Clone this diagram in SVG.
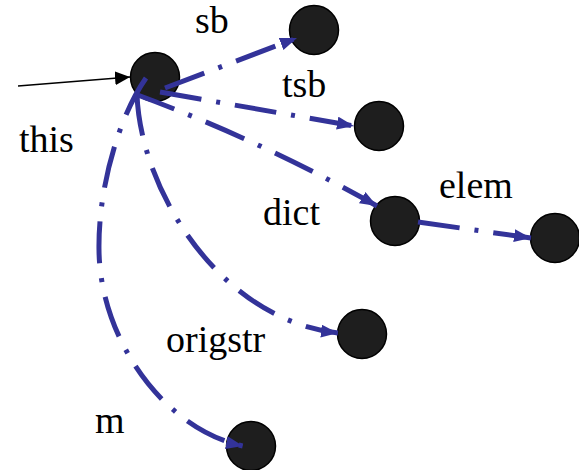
<svg xmlns="http://www.w3.org/2000/svg" width="579" height="470" viewBox="0 0 579 470">
  <style>
    .node { fill: #1e1e1e; stroke: #000; stroke-width: 1.5; }
    .edge { fill: none; stroke: #333399; stroke-width: 5; stroke-dasharray: 42 15 4 15; }
  </style>
  <defs>
    <marker id="head" markerUnits="userSpaceOnUse" markerWidth="18" markerHeight="14" refX="17" refY="6.5" orient="auto">
      <path d="M0,0 L17,6.5 L0,13 z" fill="#333399"/>
    </marker>
    <marker id="head-black" markerUnits="userSpaceOnUse" markerWidth="16" markerHeight="14" refX="15" refY="7" orient="auto">
      <path d="M0,0 L15,7 L0,14 z" fill="#000"/>
    </marker>
  </defs>

  <g id="node-this"><circle class="node" cx="155" cy="77" r="24.5"/></g>
  <g id="node-sb"><circle class="node" cx="314" cy="30" r="24.5"/></g>
  <g id="node-tsb"><circle class="node" cx="379" cy="126" r="24.5"/></g>
  <g id="node-dict"><circle class="node" cx="395" cy="221" r="24.5"/></g>
  <g id="node-elem"><circle class="node" cx="555" cy="238" r="24.5"/></g>
  <g id="node-origstr"><circle class="node" cx="362" cy="334" r="24.5"/></g>
  <g id="node-m"><circle class="node" cx="251" cy="446" r="24.5"/></g>

  <g id="connectors">
    <line x1="18" y1="86" x2="130" y2="77" stroke="#000" stroke-width="1.5" marker-end="url(#head-black)"/>
    <path class="edge" d="M165,88 L297,38" marker-end="url(#head)"/>
    <path class="edge" d="M160,92 L354,126" marker-end="url(#head)"/>
    <path class="edge" d="M135,94 Q260,140 377,206" marker-end="url(#head)"/>
    <path class="edge" d="M418,222 L531,238" marker-end="url(#head)"/>
    <path class="edge" d="M137,94 C140,190 220,320 338,333" marker-end="url(#head)"/>
    <path class="edge" d="M146,78 C118,118 98,190 99,250 C100,340 165,430 243,446" marker-end="url(#head)"/>
  </g>

  <g id="labels" font-family="Liberation Serif, serif" font-size="38" fill="#000">
    <text x="195" y="33" font-family="Liberation Serif, serif">sb</text>
    <text x="282" y="97" font-family="Liberation Serif, serif">tsb</text>
    <text x="19" y="152" font-family="Liberation Serif, serif">this</text>
    <text x="263" y="225" font-family="Liberation Serif, serif">dict</text>
    <text x="439" y="198" font-family="Liberation Serif, serif">elem</text>
    <text x="166" y="352" font-family="Liberation Serif, serif">origstr</text>
    <text x="95" y="433" font-family="Liberation Serif, serif">m</text>
  </g>
</svg>
